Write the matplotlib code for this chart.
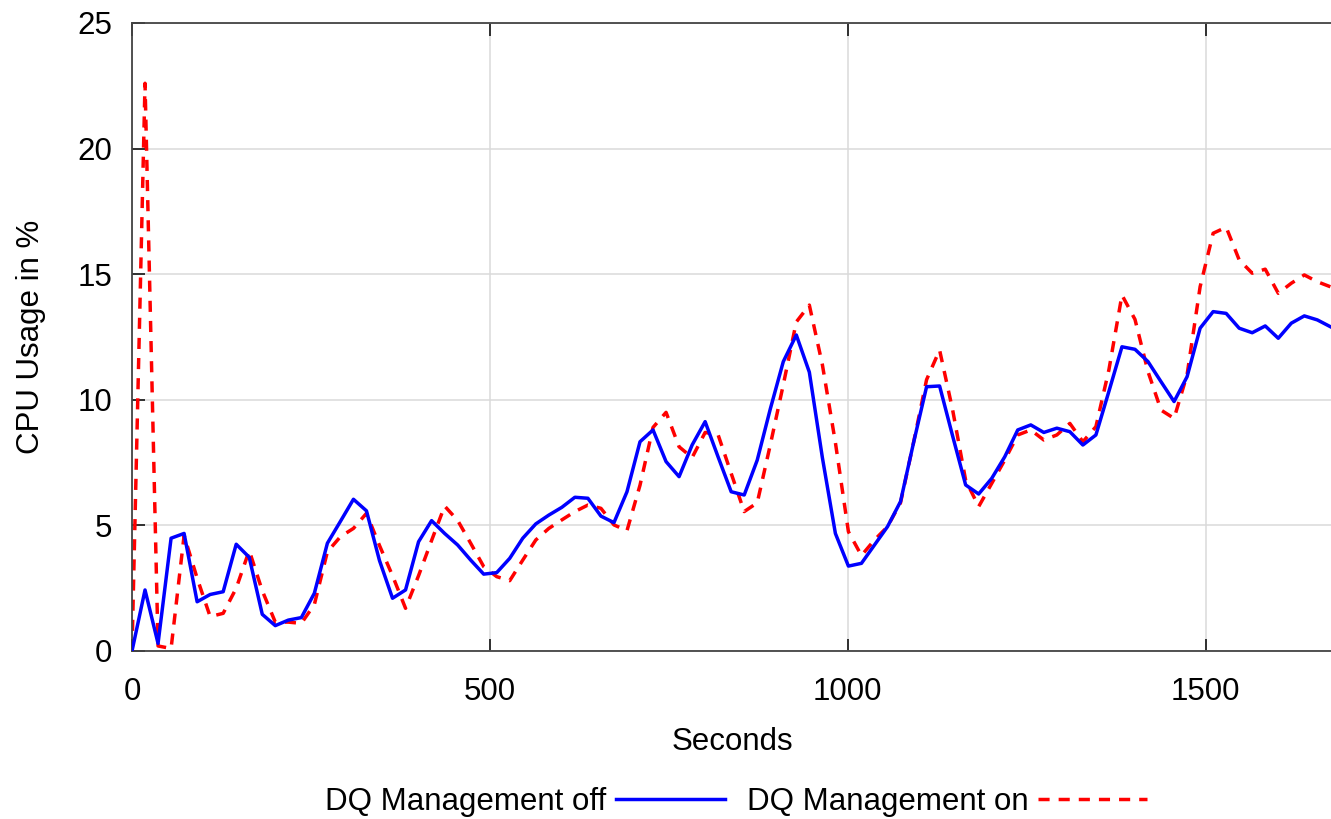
import numpy as np
import matplotlib
matplotlib.use("Agg")
import matplotlib.pyplot as plt

plt.rcParams['font.family'] = ['Liberation Sans', 'DejaVu Sans']

# sampling interval (seconds) between measurements
interval = 18.2

dq_off = [0, 2.43, 0.3, 4.49, 4.68, 1.96, 2.25, 2.36, 4.25, 3.73,
          1.46, 1.01, 1.23, 1.33, 2.3, 4.29, 5.16, 6.04, 5.58, 3.6,
          2.10, 2.43, 4.35, 5.19, 4.68, 4.22, 3.62, 3.06, 3.12, 3.69,
          4.49, 5.06, 5.41, 5.72, 6.12, 6.08, 5.37, 5.11, 6.34, 8.33,
          8.80, 7.54, 6.94, 8.20, 9.13, 7.72, 6.34, 6.21, 7.6, 9.63,
          11.52, 12.58, 11.1, 7.7, 4.68, 3.38, 3.49, 4.22, 4.95, 5.95,
          8.29, 10.52, 10.55, 8.56, 6.61, 6.25, 6.87, 7.73, 8.80, 9.0,
          8.7, 8.87, 8.73, 8.2, 8.6, 10.34, 12.11, 12.01, 11.52, 10.72,
          9.93, 10.92, 12.85, 13.51, 13.44, 12.85, 12.67, 12.94, 12.45, 13.05,
          13.34, 13.18, 12.91]

dq_on = [0, 22.6, 0.2, 0.1, 4.6, 2.9, 1.37, 1.5, 2.5, 4.0,
         2.4, 1.15, 1.15, 1.1, 1.85, 3.95, 4.55, 4.88, 5.48, 4.2,
         3.0, 1.7, 3.0, 4.4, 5.77, 5.2, 4.29, 3.36, 2.96, 2.8,
         3.62, 4.42, 4.88, 5.22, 5.55, 5.81, 5.68, 5.02, 4.79, 6.6,
         8.9, 9.5, 8.13, 7.7, 8.7, 8.6, 7.07, 5.55, 5.9, 8.2,
         10.6, 13.1, 13.77, 11.4, 8.3, 4.75, 3.8, 4.42, 4.95, 5.9,
         8.3, 10.8, 11.98, 9.6, 6.8, 5.75, 6.67, 7.6, 8.6, 8.8,
         8.4, 8.6, 9.06, 8.33, 8.93, 11.2, 14.17, 13.2, 11.12, 9.59,
         9.26, 11.0, 14.5, 16.63, 16.87, 15.57, 15.04, 15.2, 14.24, 14.64,
         14.97, 14.7, 14.5]

seconds = np.arange(len(dq_off)) * interval

x_ticks = [0, 500, 1000, 1500]
y_ticks = [0, 5, 10, 15, 20, 25]

fig = plt.figure(figsize=(13.31, 8.19), dpi=100)
ax = fig.add_axes([132/1331, 1 - 651/819, 1 - 132/1331 + 0.002, (651 - 23)/819])

ax.plot(seconds, dq_off, color='#0000FF', lw=2.5, label='DQ Management off', zorder=3)
ax.plot(seconds, dq_on, color='#FF0000', lw=2.5, dashes=(3.2, 2.6),
        label='DQ Management on', zorder=2)

ax.set_xlim(0, 1679)
ax.set_ylim(0, 25)
ax.set_xticks(x_ticks)
ax.set_yticks(y_ticks)
ax.grid(True, color='#dadada', lw=1.1, zorder=0)
ax.tick_params(axis='both', direction='in', length=9, width=1.3, labelsize=22.5,
               top=True, right=False, color='#222222')
ax.tick_params(axis='x', pad=19)
ax.tick_params(axis='y', pad=14)
for s in ['left', 'bottom', 'top']:
    ax.spines[s].set_color('#444444')
    ax.spines[s].set_linewidth(1.3)
ax.spines['right'].set_visible(False)

ax.set_xlabel('Seconds', fontsize=22.5, labelpad=14)
ax.set_ylabel('CPU Usage in %', fontsize=22.5, labelpad=23)

fig.legend(loc='center', bbox_to_anchor=(0.553, 0.021), ncol=2, frameon=False,
           markerfirst=False, fontsize=22.5, handlelength=3.5, handletextpad=0.3,
           columnspacing=0.7)

fig.savefig('out.png', dpi=100)
